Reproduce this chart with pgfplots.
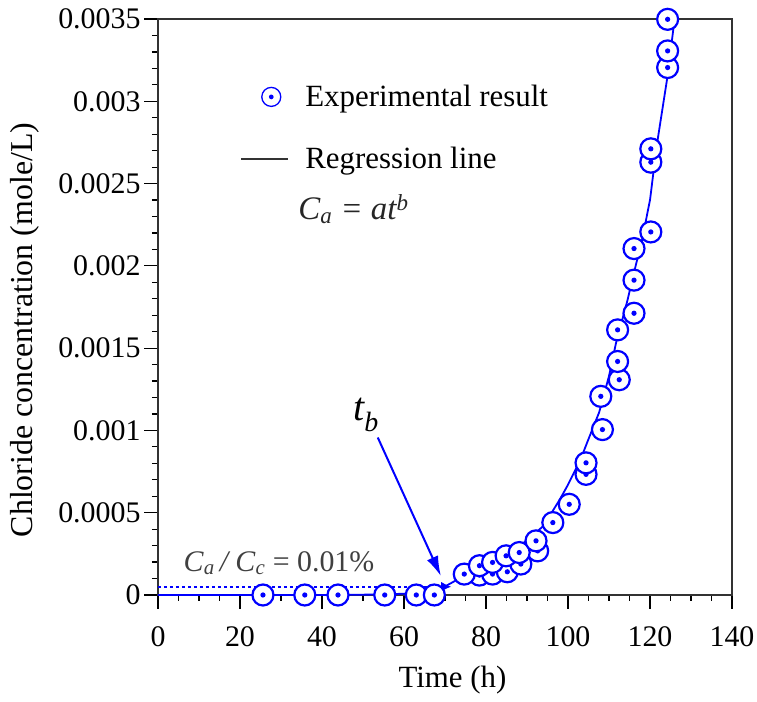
\documentclass[border=0pt]{standalone}
\usepackage{fontspec}
\setmainfont{Liberation Serif}
\usepackage{pgfplots}
\pgfplotsset{compat=1.18}
\usetikzlibrary{calc,arrows.meta}

\pgfdeclareplotmark{codot}{%
  \pgfpathcircle{\pgfpointorigin}{\pgfplotmarksize}%
  \pgfusepathqfillstroke
  \begin{pgfscope}%
  \pgfpathcircle{\pgfpointorigin}{0.25\pgfplotmarksize}%
  \pgfsetfillcolor{blue}%
  \pgfusepathqfill
  \end{pgfscope}%
}
\pgfplotsset{
  markleg/.style={legend image code/.code={\path[draw=none] (0bp,0bp) -- (47bp,0bp);
    \draw[only marks, mark=codot, mark size=9.5bp, mark options={draw=blue, fill=white, line width=1.3bp}] plot coordinates {(30bp,0bp)};}},
  lineleg/.style={legend image code/.code={\draw[black!80, line width=2bp] (0bp,0bp) -- (47bp,0bp);}},
}

\begin{document}
\begin{tikzpicture}
\begin{axis}[
  name=ax,
  scale only axis, width=574bp, height=576bp,
  xmin=0, xmax=140, ymin=0, ymax=0.0035,
  xtick={0,20,...,140},
  ytick={0,0.0005,0.001,0.0015,0.002,0.0025,0.003,0.0035},
  yticklabels={0,0.0005,0.001,0.0015,0.002,0.0025,0.003,0.0035},
  scaled y ticks=false,
  minor x tick num=3, minor y tick num=4,
  tick align=outside,
  xtick pos=left, ytick pos=left,
  major tick length=14bp, minor tick length=6bp,
  every tick/.style={black, line width=1.2bp},
  axis line style={line width=1.8bp, black!80},
  tick label style={font=\fontsize{30}{34}\selectfont},
  xticklabel style={yshift=-14bp},
  /pgf/number format/assume math mode=true,
  xlabel={Time (h)}, ylabel={Chloride concentration (mole/L)},
  xlabel style={font=\fontsize{31}{36}\selectfont, at={(axis description cs:0.513,-0.147)}, anchor=center},
  ylabel style={font=\fontsize{32}{36}\selectfont, at={(axis description cs:-0.232,0.46)}, anchor=center},
  clip=false,
  legend style={draw=none, fill=none, at={(axis description cs:0.143,0.885)}, anchor=north west,
    font=\fontsize{31}{36}\selectfont, row sep=39bp, column sep=16bp, inner sep=0pt,
    nodes={inner sep=0pt}},
  legend cell align=left,
]
\addlegendimage{markleg}
\addlegendentry{Experimental result}
\addlegendimage{lineleg}
\addlegendentry{Regression line}

% C_a/C_c = 0.01% threshold
\addplot[forget plot, blue, line width=1.6bp, dash pattern=on 3bp off 3bp] coordinates {(0,0.00005) (68,0.00005)};

% regression line
\addplot[forget plot, blue, line width=1.8bp] coordinates {
(0,0) (40,0) (55,0.000003) (62,0.00001) (66,0.000025) (70.3,0.000056) (73.5,0.0001)
(77,0.00014) (80,0.00018) (85,0.00025) (90,0.00033) (94,0.00042) (98,0.00058)
(100,0.00067) (103,0.00082) (105.2,0.00096) (107.6,0.00111) (110,0.00133)
(111.7,0.00153) (114.5,0.00179) (116,0.00195) (118,0.00215) (120,0.0024)
(121.7,0.00274) (124.2,0.00314) (126,0.0035)};

% experimental results
\addplot[forget plot, only marks, mark=codot, mark size=10.5bp, mark options={draw=blue, fill=white, line width=2.2bp}] coordinates {
(25.6,0) (35.8,0) (43.9,0) (55.3,0) (63.0,0) (67.4,0)
(78.4,0.000121) (81.6,0.000127) (85.2,0.000141) (88.5,0.000188) (92.6,0.000268)
(74.7,0.000127) (78.4,0.000178) (81.6,0.000198) (84.9,0.000238) (88.1,0.000258)
(92.2,0.000329) (96.3,0.00044) (100.3,0.000551) (104.4,0.000733) (104.4,0.000803)
(108.4,0.001005) (108.0,0.001207) (112.5,0.001308) (112.1,0.001419) (112.1,0.001611)
(116.1,0.001712) (116.1,0.001913) (116.1,0.002105) (120.2,0.002206) (120.2,0.00263)
(120.2,0.002711) (124.3,0.003205) (124.3,0.003306) (124.3,0.003498)};

\node[anchor=base west, font=\fontsize{33}{38}\selectfont\itshape, black!85] at (axis cs:33.4,0.002279)
  {C\textsubscript{a} = at\textsuperscript{b}};
\node[anchor=west, font=\fontsize{30}{34}\selectfont, black!75] at (axis cs:5.4,0.000194)
  {\textit{C}\textsubscript{\textit{a}}\,\textit{/}\,\textit{C}\textsubscript{\textit{c}} = 0.01\%};
\node[anchor=base west, font=\fontsize{40}{44}\selectfont\itshape] at (axis cs:46.8,0.00106)
  {t\textsubscript{b}};
\draw[-{Latex[length=20bp,width=12bp]}, blue, line width=2bp] (axis cs:53.6,0.000957) -- (axis cs:69.0,0.000115);
\draw[-{Latex[length=10bp,width=10bp]}, blue, line width=1.5bp] (axis cs:65,0.00005) -- (axis cs:71.5,0.00005);
\end{axis}
\pgfresetboundingbox
\path ($(ax.south west)+(-158bp,-107bp)$) rectangle ($(ax.north east)+(25bp,19bp)$);
\end{tikzpicture}
\end{document}
